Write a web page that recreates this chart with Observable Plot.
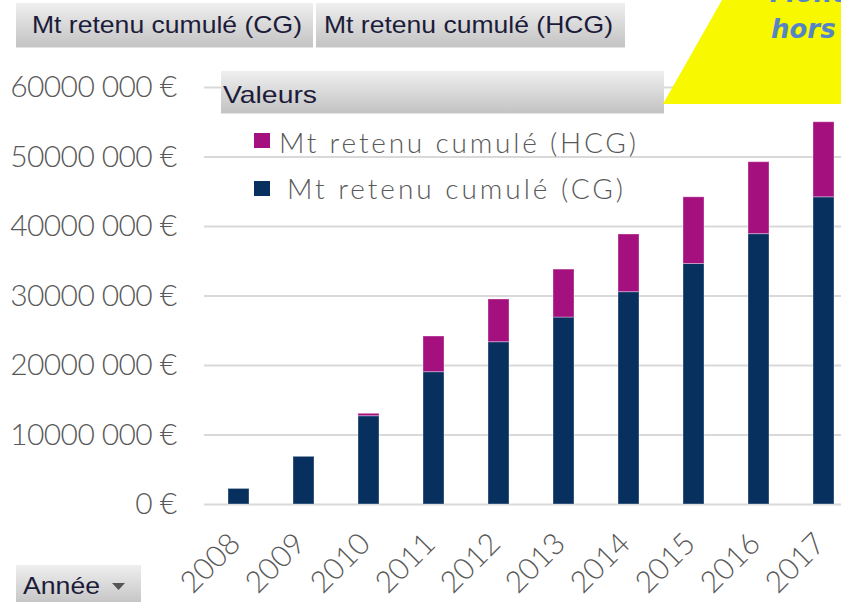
<!DOCTYPE html>
<html>
<head>
<meta charset="utf-8">
<script src="https://cdn.jsdelivr.net/npm/d3@7"></script>
<script src="https://cdn.jsdelivr.net/npm/@observablehq/plot@0.6"></script>
<style>
  html, body { margin: 0; padding: 0; background: #fff; overflow: hidden; }
  #wrap { position: relative; width: 841px; height: 602px; overflow: hidden; }
  #chart { position: absolute; left: 0; top: 0; }
  #overlay { position: absolute; left: 0; top: 0; }
</style>
</head>
<body>
<div id="wrap">
  <div id="chart"></div>
  <svg id="overlay" width="841" height="602"></svg>
</div>
<script>
// ---- data ----
const years = [2008, 2009, 2010, 2011, 2012, 2013, 2014, 2015, 2016, 2017];
const cgValues  = [2240000, 6860000, 12700000, 19040000, 23350000, 26900000, 30550000, 34600000, 38900000, 44200000];
const hcgValues = [0, 0, 350000, 5130000, 6150000, 6900000, 8300000, 9600000, 10350000, 10800000];
const seriesNames = ["Mt retenu cumulé (CG)", "Mt retenu cumulé (HCG)"];
const seriesColors = ["#07305F", "#A4107E"];
const yTickValues = [0, 10000000, 20000000, 30000000, 40000000, 50000000, 60000000];
const yTickLabels = ["0 €", "10000 000 €", "20000 000 €", "30000 000 €", "40000 000 €", "50000 000 €", "60000 000 €"];
const fieldButtons = ["Mt retenu cumulé (CG)", "Mt retenu cumulé (HCG)"];
const legendTitle = "Valeurs";
const axisButton = "Année";

// long table for stacking
const rows = [];
years.forEach((yr, i) => {
  rows.push({year: yr, serie: seriesNames[0], value: cgValues[i]});
  rows.push({year: yr, serie: seriesNames[1], value: hcgValues[i]});
});

const chart = Plot.plot({
  width: 841,
  height: 602,
  marginLeft: 204,
  marginRight: 0,
  marginTop: 87,
  marginBottom: 98,
  style: {fontFamily: "Lato, sans-serif", color: "#595959", background: "transparent", overflow: "visible"},
  x: {domain: years, range: [204, 857], paddingInner: 0.68, paddingOuter: 0.34, axis: null},
  y: {domain: [0, 60000000], axis: null},
  color: {domain: seriesNames, range: seriesColors},
  marks: [
    Plot.ruleY(yTickValues, {stroke: "#d9d9d9", strokeWidth: 2}),
    Plot.barY(rows, Plot.stackY({order: seriesNames}, {
      x: "year", y: "value", fill: "serie",
      stroke: "#ffffff", strokeOpacity: 0.35, strokeWidth: 1
    })),
    Plot.axisY({
      ticks: yTickValues,
      tickFormat: d => yTickLabels[yTickValues.indexOf(d)],
      tickSize: 0, tickPadding: 28, fontSize: 30, fontWeight: 300, label: null, fill: "#595959"
    }),
    Plot.text(years, {
      x: d => d, y: 0, text: d => String(d),
      rotate: -45, textAnchor: "end", lineAnchor: "bottom",
      dx: 3, dy: 41, fontSize: 30, fontWeight: 300, fill: "#595959"
    })
  ]
});
d3.select(chart).selectAll('g[aria-label="y-axis tick label"] text').attr("letter-spacing", -0.6);
document.getElementById("chart").appendChild(chart);

// ---- overlay decorations (pivot-table buttons, legend, banner) ----
const ov = d3.select("#overlay");
const defs = ov.append("defs");
const g = defs.append("linearGradient").attr("id", "btn").attr("x1", 0).attr("y1", 0).attr("x2", 0).attr("y2", 1);
g.append("stop").attr("offset", "0%").attr("stop-color", "#efefef");
g.append("stop").attr("offset", "100%").attr("stop-color", "#c3c3c3");

function button(x, y, w, h, label, tx, ty, tlen) {
  ov.append("rect").attr("x", x).attr("y", y).attr("width", w).attr("height", h).attr("fill", "url(#btn)");
  ov.append("line").attr("x1", x).attr("x2", x + w).attr("y1", y + h + 0.5).attr("y2", y + h + 0.5)
    .attr("stroke", "#e4e4e4").attr("stroke-width", 1);
  ov.append("text").attr("x", tx).attr("y", ty).text(label)
    .attr("font-family", "Liberation Sans, Arial, sans-serif").attr("font-size", 24)
    .attr("fill", "#1c1c3a").attr("textLength", tlen).attr("lengthAdjust", "spacingAndGlyphs");
}
button(16, 3, 297, 44, fieldButtons[0], 32, 33, 270);
button(316, 3, 309, 44, fieldButtons[1], 324, 33, 289);

// legend header
button(221, 71, 443, 42, legendTitle, 223, 103, 94);

// legend entries
const legendItems = [
  {name: seriesNames[1], color: seriesColors[1], sq: [254, 133], tx: 279, ty: 153, len: 357},
  {name: seriesNames[0], color: seriesColors[0], sq: [254, 181], tx: 287, ty: 199, len: 336}
];
legendItems.forEach(d => {
  ov.append("rect").attr("x", d.sq[0]).attr("y", d.sq[1]).attr("width", 16).attr("height", 15).attr("fill", d.color);
  ov.append("text").attr("x", d.tx).attr("y", d.ty).text(d.name)
    .attr("font-family", "Lato, sans-serif").attr("font-size", 28).attr("font-weight", 300)
    .attr("fill", "#595959").attr("textLength", d.len).attr("lengthAdjust", "spacing");
});

// yellow banner (cropped)
ov.append("polygon").attr("points", "722,0 841,0 841,104 663,104").attr("fill", "#F8F800");
ov.append("text").attr("x", 770).attr("y", 2).text("Montant")
  .attr("font-family", "DejaVu Sans, sans-serif").attr("font-size", 26)
  .attr("font-weight", "bold").attr("font-style", "italic").attr("fill", "#5585C4");
ov.append("text").attr("x", 771).attr("y", 38).text("hors")
  .attr("font-family", "DejaVu Sans, sans-serif").attr("font-size", 26)
  .attr("font-weight", "bold").attr("font-style", "italic").attr("fill", "#5585C4");

// "Année" field button
ov.append("rect").attr("x", 16).attr("y", 565).attr("width", 125).attr("height", 40).attr("fill", "url(#btn)");
ov.append("text").attr("x", 23).attr("y", 594).text(axisButton)
  .attr("font-family", "Liberation Sans, Arial, sans-serif").attr("font-size", 24)
  .attr("fill", "#1c1c3a").attr("textLength", 77).attr("lengthAdjust", "spacingAndGlyphs");
ov.append("polygon").attr("points", "112,583 125,583 118.5,590").attr("fill", "#555");
</script>
</body>
</html>
